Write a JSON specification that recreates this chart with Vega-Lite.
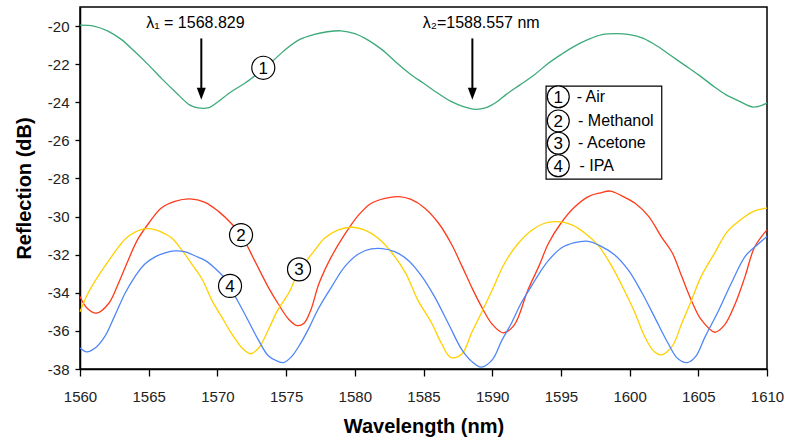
{
  "$schema": "https://vega.github.io/schema/vega-lite/v6.json",
  "width": 687,
  "height": 362,
  "autosize": {"type": "none"},
  "padding": {"left": 80, "top": 7, "right": 18, "bottom": 72},
  "background": "white",
  "config": {
    "font": "Liberation Sans",
    "view": {"stroke": "#000", "strokeWidth": 1.5},
    "axis": {
      "grid": false,
      "domainColor": "#000",
      "domainWidth": 1.5,
      "tickColor": "#000",
      "tickWidth": 1.3,
      "labelColor": "#222",
      "labelFont": "Liberation Sans",
      "labelFontSize": 15,
      "titleFont": "Liberation Sans",
      "titleFontSize": 20,
      "titleFontWeight": "bold",
      "titleColor": "#000"
    }
  },
  "datasets": {
    "curves": [
      {"s":"Air","wl":1560,"db":-19.95},{"s":"Air","wl":1561,"db":-20.0},{"s":"Air","wl":1562,"db":-20.25},{"s":"Air","wl":1563,"db":-20.7},{"s":"Air","wl":1564,"db":-21.35},{"s":"Air","wl":1565,"db":-22.05},{"s":"Air","wl":1566,"db":-22.8},{"s":"Air","wl":1567,"db":-23.5},{"s":"Air","wl":1568,"db":-24.15},{"s":"Air","wl":1568.6,"db":-24.3},{"s":"Air","wl":1569.4,"db":-24.28},{"s":"Air","wl":1570,"db":-24.0},{"s":"Air","wl":1571,"db":-23.45},{"s":"Air","wl":1572,"db":-23.0},{"s":"Air","wl":1573,"db":-22.45},{"s":"Air","wl":1574,"db":-21.85},{"s":"Air","wl":1575,"db":-21.2},{"s":"Air","wl":1576,"db":-20.7},{"s":"Air","wl":1577,"db":-20.45},{"s":"Air","wl":1578,"db":-20.3},{"s":"Air","wl":1579,"db":-20.25},{"s":"Air","wl":1580,"db":-20.4},{"s":"Air","wl":1581,"db":-20.75},{"s":"Air","wl":1582,"db":-21.25},{"s":"Air","wl":1583,"db":-21.9},{"s":"Air","wl":1584,"db":-22.5},{"s":"Air","wl":1585,"db":-23.0},{"s":"Air","wl":1586,"db":-23.5},{"s":"Air","wl":1587,"db":-23.95},{"s":"Air","wl":1588,"db":-24.25},{"s":"Air","wl":1588.7,"db":-24.37},{"s":"Air","wl":1589.5,"db":-24.3},{"s":"Air","wl":1590.3,"db":-24.0},{"s":"Air","wl":1591,"db":-23.6},{"s":"Air","wl":1592,"db":-23.1},{"s":"Air","wl":1593,"db":-22.6},{"s":"Air","wl":1594,"db":-22.0},{"s":"Air","wl":1595,"db":-21.5},{"s":"Air","wl":1596,"db":-21.05},{"s":"Air","wl":1597,"db":-20.7},{"s":"Air","wl":1598,"db":-20.45},{"s":"Air","wl":1599,"db":-20.4},{"s":"Air","wl":1600,"db":-20.45},{"s":"Air","wl":1601,"db":-20.65},{"s":"Air","wl":1602,"db":-21.05},{"s":"Air","wl":1603,"db":-21.55},{"s":"Air","wl":1604,"db":-22.05},{"s":"Air","wl":1605,"db":-22.55},{"s":"Air","wl":1606,"db":-23.1},{"s":"Air","wl":1607,"db":-23.6},{"s":"Air","wl":1608,"db":-23.95},{"s":"Air","wl":1609,"db":-24.25},{"s":"Air","wl":1610,"db":-24.05},

      {"s":"Methanol","wl":1560.0,"db":-34.2},{"s":"Methanol","wl":1560.5,"db":-34.8},{"s":"Methanol","wl":1561.2,"db":-35.07},{"s":"Methanol","wl":1562.1,"db":-34.55},{"s":"Methanol","wl":1562.8,"db":-33.5},{"s":"Methanol","wl":1563.5,"db":-32.3},{"s":"Methanol","wl":1564.2,"db":-31.2},{"s":"Methanol","wl":1565.0,"db":-30.35},{"s":"Methanol","wl":1565.9,"db":-29.56},{"s":"Methanol","wl":1566.9,"db":-29.2},{"s":"Methanol","wl":1568.0,"db":-29.07},{"s":"Methanol","wl":1569.1,"db":-29.25},{"s":"Methanol","wl":1570.1,"db":-29.74},{"s":"Methanol","wl":1571.0,"db":-30.35},{"s":"Methanol","wl":1571.8,"db":-31.05},{"s":"Methanol","wl":1572.7,"db":-32.3},{"s":"Methanol","wl":1573.7,"db":-33.7},{"s":"Methanol","wl":1574.4,"db":-34.55},{"s":"Methanol","wl":1575.2,"db":-35.4},{"s":"Methanol","wl":1575.8,"db":-35.72},{"s":"Methanol","wl":1576.3,"db":-35.6},{"s":"Methanol","wl":1576.8,"db":-34.9},{"s":"Methanol","wl":1577.4,"db":-33.5},{"s":"Methanol","wl":1578.3,"db":-32.1},{"s":"Methanol","wl":1579.3,"db":-30.9},{"s":"Methanol","wl":1580.3,"db":-29.9},{"s":"Methanol","wl":1581.2,"db":-29.3},{"s":"Methanol","wl":1582.2,"db":-29.04},{"s":"Methanol","wl":1583.2,"db":-28.95},{"s":"Methanol","wl":1584.1,"db":-29.1},{"s":"Methanol","wl":1585.1,"db":-29.56},{"s":"Methanol","wl":1586.1,"db":-30.35},{"s":"Methanol","wl":1587.0,"db":-31.4},{"s":"Methanol","wl":1587.8,"db":-32.6},{"s":"Methanol","wl":1588.5,"db":-33.7},{"s":"Methanol","wl":1589.2,"db":-34.7},{"s":"Methanol","wl":1590.0,"db":-35.65},{"s":"Methanol","wl":1590.8,"db":-36.1},{"s":"Methanol","wl":1591.6,"db":-35.7},{"s":"Methanol","wl":1592.6,"db":-33.85},{"s":"Methanol","wl":1593.4,"db":-32.6},{"s":"Methanol","wl":1594.1,"db":-31.4},{"s":"Methanol","wl":1595.0,"db":-30.35},{"s":"Methanol","wl":1596.0,"db":-29.5},{"s":"Methanol","wl":1597.0,"db":-28.95},{"s":"Methanol","wl":1597.9,"db":-28.75},{"s":"Methanol","wl":1598.6,"db":-28.66},{"s":"Methanol","wl":1599.4,"db":-28.9},{"s":"Methanol","wl":1600.4,"db":-29.3},{"s":"Methanol","wl":1601.4,"db":-30.0},{"s":"Methanol","wl":1602.3,"db":-31.05},{"s":"Methanol","wl":1603.1,"db":-31.9},{"s":"Methanol","wl":1603.8,"db":-33.15},{"s":"Methanol","wl":1604.5,"db":-34.4},{"s":"Methanol","wl":1605.2,"db":-35.4},{"s":"Methanol","wl":1606.2,"db":-36.07},{"s":"Methanol","wl":1606.9,"db":-35.7},{"s":"Methanol","wl":1607.7,"db":-34.55},{"s":"Methanol","wl":1608.4,"db":-33.15},{"s":"Methanol","wl":1609.1,"db":-31.6},{"s":"Methanol","wl":1610.0,"db":-30.7},

      {"s":"Acetone","wl":1560.0,"db":-35.0},{"s":"Acetone","wl":1560.6,"db":-34.0},{"s":"Acetone","wl":1561.3,"db":-33.15},{"s":"Acetone","wl":1562.1,"db":-32.3},{"s":"Acetone","wl":1562.8,"db":-31.6},{"s":"Acetone","wl":1563.5,"db":-31.05},{"s":"Acetone","wl":1564.5,"db":-30.67},{"s":"Acetone","wl":1565.2,"db":-30.65},{"s":"Acetone","wl":1565.9,"db":-30.8},{"s":"Acetone","wl":1566.7,"db":-31.14},{"s":"Acetone","wl":1567.4,"db":-31.75},{"s":"Acetone","wl":1568.1,"db":-32.45},{"s":"Acetone","wl":1568.9,"db":-33.3},{"s":"Acetone","wl":1569.6,"db":-34.4},{"s":"Acetone","wl":1570.3,"db":-35.25},{"s":"Acetone","wl":1571.0,"db":-36.1},{"s":"Acetone","wl":1571.8,"db":-36.9},{"s":"Acetone","wl":1572.4,"db":-37.2},{"s":"Acetone","wl":1573.0,"db":-36.9},{"s":"Acetone","wl":1573.7,"db":-35.95},{"s":"Acetone","wl":1574.4,"db":-34.9},{"s":"Acetone","wl":1575.2,"db":-34.0},{"s":"Acetone","wl":1575.9,"db":-32.9},{"s":"Acetone","wl":1576.4,"db":-32.4},{"s":"Acetone","wl":1577.1,"db":-31.75},{"s":"Acetone","wl":1577.8,"db":-31.14},{"s":"Acetone","wl":1578.8,"db":-30.7},{"s":"Acetone","wl":1579.8,"db":-30.56},{"s":"Acetone","wl":1580.7,"db":-30.7},{"s":"Acetone","wl":1581.7,"db":-31.14},{"s":"Acetone","wl":1582.7,"db":-31.9},{"s":"Acetone","wl":1583.7,"db":-32.97},{"s":"Acetone","wl":1584.6,"db":-34.4},{"s":"Acetone","wl":1585.6,"db":-35.6},{"s":"Acetone","wl":1586.3,"db":-36.65},{"s":"Acetone","wl":1587.0,"db":-37.4},{"s":"Acetone","wl":1587.8,"db":-37.2},{"s":"Acetone","wl":1588.5,"db":-36.1},{"s":"Acetone","wl":1589.2,"db":-35.07},{"s":"Acetone","wl":1590.0,"db":-33.85},{"s":"Acetone","wl":1590.9,"db":-32.45},{"s":"Acetone","wl":1591.9,"db":-31.4},{"s":"Acetone","wl":1592.9,"db":-30.7},{"s":"Acetone","wl":1593.8,"db":-30.35},{"s":"Acetone","wl":1594.8,"db":-30.27},{"s":"Acetone","wl":1595.8,"db":-30.44},{"s":"Acetone","wl":1596.8,"db":-30.9},{"s":"Acetone","wl":1597.7,"db":-31.5},{"s":"Acetone","wl":1598.7,"db":-32.6},{"s":"Acetone","wl":1599.7,"db":-34.0},{"s":"Acetone","wl":1600.4,"db":-35.07},{"s":"Acetone","wl":1601.1,"db":-36.3},{"s":"Acetone","wl":1601.8,"db":-37.1},{"s":"Acetone","wl":1602.3,"db":-37.26},{"s":"Acetone","wl":1603.1,"db":-36.8},{"s":"Acetone","wl":1603.8,"db":-35.6},{"s":"Acetone","wl":1604.5,"db":-34.4},{"s":"Acetone","wl":1605.2,"db":-33.15},{"s":"Acetone","wl":1606.2,"db":-31.9},{"s":"Acetone","wl":1607.1,"db":-30.8},{"s":"Acetone","wl":1608.2,"db":-30.1},{"s":"Acetone","wl":1609.1,"db":-29.7},{"s":"Acetone","wl":1610.0,"db":-29.56},

      {"s":"IPA","wl":1560.0,"db":-36.9},{"s":"IPA","wl":1560.5,"db":-37.1},{"s":"IPA","wl":1561.1,"db":-36.9},{"s":"IPA","wl":1561.8,"db":-36.3},{"s":"IPA","wl":1562.5,"db":-35.25},{"s":"IPA","wl":1563.3,"db":-34.0},{"s":"IPA","wl":1564.0,"db":-33.15},{"s":"IPA","wl":1564.7,"db":-32.5},{"s":"IPA","wl":1565.5,"db":-32.1},{"s":"IPA","wl":1566.2,"db":-31.9},{"s":"IPA","wl":1566.9,"db":-31.8},{"s":"IPA","wl":1567.6,"db":-31.84},{"s":"IPA","wl":1568.4,"db":-32.07},{"s":"IPA","wl":1569.1,"db":-32.3},{"s":"IPA","wl":1569.8,"db":-32.7},{"s":"IPA","wl":1570.6,"db":-33.3},{"s":"IPA","wl":1571.5,"db":-34.46},{"s":"IPA","wl":1572.2,"db":-35.4},{"s":"IPA","wl":1573.0,"db":-36.5},{"s":"IPA","wl":1573.7,"db":-37.3},{"s":"IPA","wl":1574.4,"db":-37.6},{"s":"IPA","wl":1574.8,"db":-37.66},{"s":"IPA","wl":1575.4,"db":-37.35},{"s":"IPA","wl":1576.1,"db":-36.6},{"s":"IPA","wl":1576.7,"db":-35.8},{"s":"IPA","wl":1577.3,"db":-34.9},{"s":"IPA","wl":1578.3,"db":-33.7},{"s":"IPA","wl":1579.3,"db":-32.6},{"s":"IPA","wl":1580.3,"db":-31.95},{"s":"IPA","wl":1581.2,"db":-31.7},{"s":"IPA","wl":1582.0,"db":-31.68},{"s":"IPA","wl":1582.9,"db":-31.84},{"s":"IPA","wl":1583.9,"db":-32.3},{"s":"IPA","wl":1584.8,"db":-33.06},{"s":"IPA","wl":1585.8,"db":-34.2},{"s":"IPA","wl":1586.8,"db":-35.6},{"s":"IPA","wl":1587.8,"db":-37.0},{"s":"IPA","wl":1588.5,"db":-37.6},{"s":"IPA","wl":1589.2,"db":-37.9},{"s":"IPA","wl":1590.0,"db":-37.52},{"s":"IPA","wl":1590.7,"db":-36.5},{"s":"IPA","wl":1591.4,"db":-35.6},{"s":"IPA","wl":1592.1,"db":-34.55},{"s":"IPA","wl":1592.9,"db":-33.6},{"s":"IPA","wl":1593.5,"db":-32.9},{"s":"IPA","wl":1594.1,"db":-32.3},{"s":"IPA","wl":1595.0,"db":-31.66},{"s":"IPA","wl":1596.0,"db":-31.37},{"s":"IPA","wl":1597.0,"db":-31.3},{"s":"IPA","wl":1597.9,"db":-31.55},{"s":"IPA","wl":1598.9,"db":-32.0},{"s":"IPA","wl":1599.9,"db":-32.8},{"s":"IPA","wl":1600.9,"db":-34.0},{"s":"IPA","wl":1601.8,"db":-35.25},{"s":"IPA","wl":1602.8,"db":-36.65},{"s":"IPA","wl":1603.5,"db":-37.45},{"s":"IPA","wl":1604.2,"db":-37.66},{"s":"IPA","wl":1604.8,"db":-37.35},{"s":"IPA","wl":1605.5,"db":-36.3},{"s":"IPA","wl":1606.5,"db":-34.9},{"s":"IPA","wl":1607.4,"db":-33.5},{"s":"IPA","wl":1608.4,"db":-32.1},{"s":"IPA","wl":1609.1,"db":-31.6},{"s":"IPA","wl":1610.0,"db":-31.05}
    ],
    "arrows": [
      {"wl": 1568.829, "db": -20.65, "db2": -23.5, "label": "λ₁ = 1568.829", "lx": 1568.4},
      {"wl": 1588.557, "db": -20.65, "db2": -23.5, "label": "λ₂=1588.557 nm", "lx": 1589.2}
    ],
    "markers": [
      {"wl": 1573.34, "db": -22.19, "n": "1"},
      {"wl": 1571.72, "db": -30.97, "n": "2"},
      {"wl": 1575.94, "db": -32.77, "n": "3"},
      {"wl": 1570.92, "db": -33.64, "n": "4"}
    ],
    "legendbox": [
      {"wl": 1593.92, "wl2": 1602.34, "db": -23.15, "db2": -28.03}
    ],
    "legend": [
      {"wl": 1594.81, "tx": 1596.15, "db": -23.71, "n": "1", "label": "- Air"},
      {"wl": 1594.81, "tx": 1596.25, "db": -24.98, "n": "2", "label": "- Methanol"},
      {"wl": 1594.81, "tx": 1596.25, "db": -26.15, "n": "3", "label": "- Acetone"},
      {"wl": 1594.81, "tx": 1596.35, "db": -27.33, "n": "4", "label": "- IPA"}
    ]
  },
  "layer": [
    {
      "data": {"name": "curves"},
      "mark": {"type": "line", "strokeWidth": 1.3, "interpolate": "catmull-rom"},
      "encoding": {
        "x": {
          "field": "wl", "type": "quantitative",
          "scale": {"domain": [1560, 1610], "nice": false, "zero": false},
          "axis": {"title": "Wavelength (nm)", "values": [1560,1565,1570,1575,1580,1585,1590,1595,1600,1605,1610], "labelExpr": "toString(datum.value)", "tickSize": 7, "labelPadding": 13, "titlePadding": 12, "labelFlush": false}
        },
        "y": {
          "field": "db", "type": "quantitative",
          "scale": {"domain": [-38, -19], "nice": false, "zero": false},
          "axis": {"title": "Reflection (dB)", "values": [-38,-36,-34,-32,-30,-28,-26,-24,-22,-20], "labelExpr": "toString(datum.value)", "tickSize": 5, "labelPadding": 6, "titlePadding": 13}
        },
        "color": {
          "field": "s", "type": "nominal",
          "scale": {"domain": ["Air", "Methanol", "Acetone", "IPA"], "range": ["#3DAA7A", "#FF3A1A", "#FFD000", "#4F86F7"]},
          "legend": null
        },
        "detail": {"field": "s"}
      }
    },
    {
      "data": {"name": "arrows"},
      "mark": {"type": "rule", "color": "#000", "strokeWidth": 2},
      "encoding": {
        "x": {"field": "wl", "type": "quantitative"},
        "y": {"field": "db", "type": "quantitative"},
        "y2": {"field": "db2"}
      }
    },
    {
      "data": {"name": "arrows"},
      "mark": {"type": "point", "shape": "M-0.75,-1L0.75,-1L0,1Z", "filled": true, "color": "#000", "size": 144, "opacity": 1, "yOffset": 1},
      "encoding": {
        "x": {"field": "wl", "type": "quantitative"},
        "y": {"field": "db2", "type": "quantitative"}
      }
    },
    {
      "data": {"name": "arrows"},
      "mark": {"type": "text", "fontSize": 16, "font": "Liberation Sans", "color": "#000", "baseline": "alphabetic", "align": "center"},
      "encoding": {
        "x": {"field": "lx", "type": "quantitative"},
        "y": {"datum": -20.1, "type": "quantitative"},
        "text": {"field": "label"}
      }
    },
    {
      "data": {"name": "markers"},
      "mark": {"type": "point", "shape": "circle", "filled": false, "fill": "white", "fillOpacity": 1, "stroke": "#000", "strokeWidth": 1.2, "size": 530, "opacity": 1},
      "encoding": {
        "x": {"field": "wl", "type": "quantitative"},
        "y": {"field": "db", "type": "quantitative"}
      }
    },
    {
      "data": {"name": "markers"},
      "mark": {"type": "text", "fontSize": 17, "font": "Liberation Sans", "color": "#000", "baseline": "middle", "align": "center", "dy": 1},
      "encoding": {
        "x": {"field": "wl", "type": "quantitative"},
        "y": {"field": "db", "type": "quantitative"},
        "text": {"field": "n"}
      }
    },
    {
      "data": {"name": "legendbox"},
      "mark": {"type": "rect", "fill": "white", "stroke": "#000", "strokeWidth": 1.2},
      "encoding": {
        "x": {"field": "wl", "type": "quantitative"},
        "x2": {"field": "wl2"},
        "y": {"field": "db", "type": "quantitative"},
        "y2": {"field": "db2"}
      }
    },
    {
      "data": {"name": "legend"},
      "mark": {"type": "point", "shape": "circle", "filled": false, "fill": "white", "fillOpacity": 1, "stroke": "#000", "strokeWidth": 1.2, "size": 480, "opacity": 1},
      "encoding": {
        "x": {"field": "wl", "type": "quantitative"},
        "y": {"field": "db", "type": "quantitative"}
      }
    },
    {
      "data": {"name": "legend"},
      "mark": {"type": "text", "fontSize": 17, "font": "Liberation Sans", "color": "#000", "baseline": "middle", "align": "center", "dy": 1},
      "encoding": {
        "x": {"field": "wl", "type": "quantitative"},
        "y": {"field": "db", "type": "quantitative"},
        "text": {"field": "n"}
      }
    },
    {
      "data": {"name": "legend"},
      "mark": {"type": "text", "fontSize": 16, "font": "Liberation Sans", "color": "#000", "baseline": "middle", "align": "left", "dy": 0},
      "encoding": {
        "x": {"field": "tx", "type": "quantitative"},
        "y": {"field": "db", "type": "quantitative"},
        "text": {"field": "label"}
      }
    }
  ]
}
